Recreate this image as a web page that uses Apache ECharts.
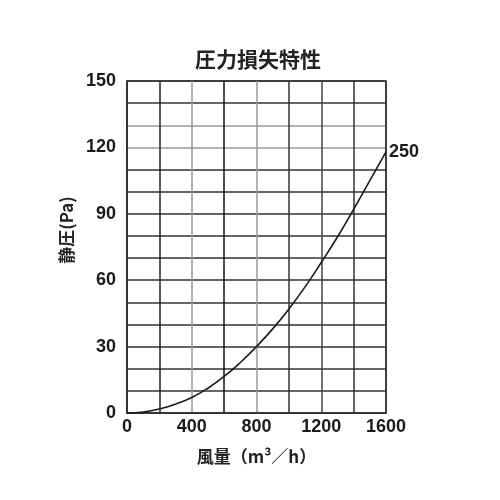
<!DOCTYPE html>
<html><head><meta charset="utf-8">
<script src="https://cdn.jsdelivr.net/npm/echarts@6/dist/echarts.min.js"></script>
<style>html,body{margin:0;padding:0;background:#fff}#c{width:500px;height:500px}</style>
</head><body><div id="c"></div>
<script>
const titleText = '圧力損失特性';
const xName = '風量（m³／h）';
const yName = '静圧(Pa)';
const curveLabel = '250';
const flow = [0, 100, 200, 300, 400, 500, 600, 700, 800, 900, 1000, 1100, 1200, 1300, 1400, 1500, 1600];
const pressure = [0, 0.4, 1.8, 4, 7, 11.2, 16.5, 22.8, 30, 38, 47, 57, 68, 79.5, 92, 105, 118];
const xLabelTicks = [0, 400, 800, 1200, 1600];
const yLabelTicks = [0, 30, 60, 90, 120, 150];

const chart = echarts.init(document.getElementById('c'));
const jp = '"Noto Sans CJK JP", sans-serif';
const num = '"Liberation Sans", Arial, sans-serif';
const xGridColors = ['#333', '#222', '#9a9a9a', '#111', '#9a9a9a', '#333', '#444', '#333', '#333'];
const yGridColors = ['#333', '#333', '#333', '#333', '#333', '#333', '#333', '#333', '#333', '#333', '#333', '#333', '#9a9a9a', '#9a9a9a', '#333', '#333'];
chart.setOption({
  animation: false,
  backgroundColor: '#fff',
  title: {
    text: titleText, left: 253, top: 44, textAlign: 'center',
    textStyle: {fontFamily: jp, fontSize: 21, fontWeight: 'bold', color: '#222'}
  },
  grid: {left: 127, right: 114, top: 81, bottom: 87, show: true, borderColor: '#333', borderWidth: 1.5},
  xAxis: {
    type: 'value', min: 0, max: 1600, interval: 200,
    name: xName, nameLocation: 'middle', nameGap: 35,
    nameTextStyle: {fontFamily: jp, fontSize: 17, fontWeight: 'bold', color: '#222'},
    axisLine: {show: true, lineStyle: {color: '#333', width: 1.5}},
    axisTick: {show: false},
    splitLine: {show: true, lineStyle: {color: xGridColors, width: 1.5}},
    axisLabel: {
      fontFamily: num, fontSize: 18, fontWeight: 'bold', color: '#1a1a1a', margin: 5,
      formatter: v => xLabelTicks.includes(v) ? String(v) : ''
    }
  },
  yAxis: {
    type: 'value', min: 0, max: 150, interval: 10,
    name: yName, nameLocation: 'middle', nameGap: 52, nameRotate: 90,
    nameTextStyle: {fontFamily: jp, fontSize: 17, fontWeight: 'bold', color: '#222', padding: [0, 0, 0, 34]},
    axisLine: {show: true, lineStyle: {color: '#333', width: 1.5}},
    axisTick: {show: false},
    splitLine: {show: true, lineStyle: {color: yGridColors, width: 1.5}},
    axisLabel: {
      fontFamily: num, fontSize: 18, fontWeight: 'bold', color: '#1a1a1a', margin: 11,
      formatter: v => yLabelTicks.includes(v) ? String(v) : ''
    }
  },
  series: [{
    type: 'line', smooth: true, symbol: 'none',
    data: flow.map((x, i) => [x, pressure[i]]),
    lineStyle: {color: '#1a1a1a', width: 1.6},
    endLabel: {show: true, formatter: curveLabel, fontFamily: num, fontSize: 18, fontWeight: 'bold', color: '#1a1a1a', distance: 3}
  }]
});
</script></body></html>
